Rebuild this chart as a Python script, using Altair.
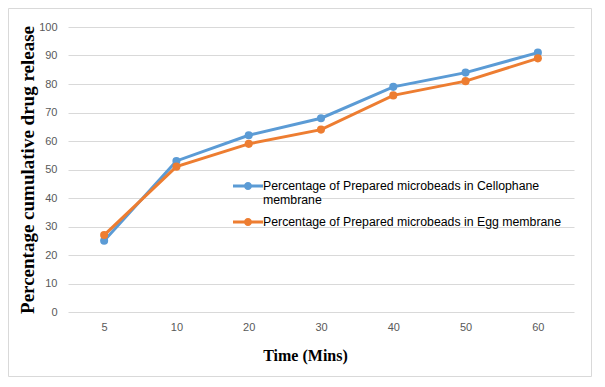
import altair as alt
import pandas as pd

times = ["5", "10", "20", "30", "40", "50", "60"]
cellophane = [25, 53, 62, 68, 79, 84, 91]
egg = [27, 51, 59, 64, 76, 81, 89]
s1 = "Percentage of Prepared microbeads in Cellophane membrane"
s2 = "Percentage of Prepared microbeads in Egg membrane"

df = pd.DataFrame({
    "time": times * 2,
    "value": cellophane + egg,
    "series": [s1] * len(times) + [s2] * len(times),
})

W, H = 506, 285
colors = alt.Scale(domain=[s1, s2], range=["#5B9BD5", "#ED7D31"])

sym = ("M-1,-0.1L-0.25,-0.1L-0.25,0.1L-1,0.1Z "
       "M0.25,-0.1L1,-0.1L1,0.1L0.25,0.1Z "
       "M0.27,0A0.27,0.27,0,1,1,-0.27,0A0.27,0.27,0,1,1,0.27,0Z")

legend = alt.Legend(
    title=None, orient="none", legendX=165, legendY=144,
    symbolType=sym, symbolSize=900, symbolStrokeWidth=0,
    symbolOpacity=1,
    labelFont="Liberation Sans", labelFontSize=12.3, labelColor="#000000",
    labelLimit=400, rowPadding=-7, labelOffset=0,
    labelExpr="datum.label == '" + s1 + "' ? ['Percentage of Prepared microbeads in Cellophane', 'membrane'] : datum.label",
)

x = alt.X("time:N", sort=times, scale=alt.Scale(paddingInner=0, paddingOuter=0),
          axis=alt.Axis(title="Time (Mins)", labelAngle=0, ticks=False, domain=False,
                        grid=False, labelPadding=9, titlePadding=15,
                        titleX=237))
y = alt.Y("value:Q", scale=alt.Scale(domain=[0, 100]),
          axis=alt.Axis(title="Percentage cumulative  drug release", values=list(range(0, 101, 10)),
                        ticks=False, domain=False, labelPadding=11, titlePadding=1))

color = alt.Color("series:N", scale=colors, sort=[s1, s2], legend=legend)

lines = alt.Chart(df).mark_line(strokeWidth=3).encode(x=x, y=y, color=color)
points = alt.Chart(df).mark_point(filled=True, size=65, opacity=1).encode(x=x, y=y, color=color)

border = alt.Chart(pd.DataFrame({"a": [0]})).mark_rect(
    fill=None, stroke="#d9d9d9", strokeWidth=1
).encode(
    x=alt.value(-59.5), x2=alt.value(W + 17.5), y=alt.value(-18.5), y2=alt.value(H + 64.5)
)

chart = alt.layer(border, lines, points).properties(
    width=W, height=H,
    autosize=alt.AutoSizeParams(type="none"),
    padding={"left": 60, "top": 19, "right": 18, "bottom": 65},
).configure_view(stroke=None).configure_axis(
    labelFont="Liberation Sans", labelFontSize=11, labelColor="#595959",
    titleFont="Liberation Serif", titleFontWeight="bold", titleColor="#000000",
    gridColor="#d9d9d9", gridWidth=1,
).configure_axisY(titleFontSize=19).configure_axisX(titleFontSize=16)

chart.save("out.html", embed_options={"renderer": "svg", "actions": False})
